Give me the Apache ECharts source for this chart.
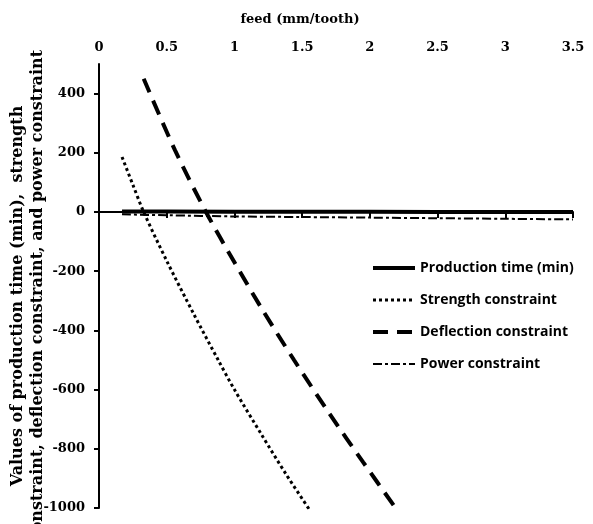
<!DOCTYPE html>
<html>
<head>
<meta charset="utf-8">
<script src="https://cdn.jsdelivr.net/npm/echarts@6/dist/echarts.min.js"></script>
<style>
  html, body { margin: 0; padding: 0; background: #fff; }
  #chart { width: 593px; height: 524px; }
</style>
</head>
<body>
<div id="chart"></div>
<script>
// feed (mm/tooth) vs value
var productionTime = [[0.17, 2], [0.5, 2], [1.0, 1], [1.5, 1], [2.0, 1], [2.5, 0], [3.0, 0], [3.5, 0]];
var strengthConstraint = [[0.17, 186], [0.25, 92], [0.33, 0], [0.5, -165], [0.7, -345], [0.88, -500], [1.0, -600], [1.2, -752], [1.38, -885], [1.55, -1003]];
var deflectionConstraint = [[0.33, 450], [0.56, 210], [0.79, 0], [1.0, -170], [1.2, -325], [1.44, -500], [1.7, -680], [1.95, -845], [2.19, -1000]];
var powerConstraint = [[0.17, -8], [0.5, -11], [1.0, -15], [1.5, -17], [2.0, -19], [2.5, -21], [3.0, -23], [3.5, -25]];

var seriesNames = ['Production time (min)', 'Strength constraint', 'Deflection constraint', 'Power constraint'];
var xTitle = 'feed (mm/tooth)';
var yTitle = 'Values of production time (min),  strength\nconstraint, deflection constraint, and power constraint';

// line looks, shared by series and legend
var styles = [
    { color: '#000', width: 4, type: 'solid' },
    { color: '#000', width: 3, type: [3, 3] },
    { color: '#000', width: 4, type: [15, 9] },
    { color: '#000', width: 2, type: [9, 3, 3, 3] }
];

var chart = echarts.init(document.getElementById('chart'));

var legendData = seriesNames.map(function (n, i) {
    return { name: n, lineStyle: styles[i] };
});

var option = {
    animation: false,
    backgroundColor: '#fff',
    title: {
        text: xTitle,
        left: 295,
        top: 8,
        textAlign: 'center',
        textStyle: { fontFamily: 'DejaVu Serif', fontWeight: 'bold', fontSize: 13, color: '#000' }
    },
    grid: { left: 99, right: 20, top: 64, bottom: 16 },
    legend: {
        orient: 'vertical',
        left: 366,
        top: 256,
        itemWidth: 42,
        itemHeight: 14,
        itemGap: 18,
        data: legendData,
        itemStyle: { opacity: 0 },
        textStyle: { fontFamily: 'Open Sans', fontWeight: 'bold', fontSize: 14, color: '#000' }
    },
    xAxis: {
        type: 'value',
        position: 'top',
        min: 0,
        max: 3.5,
        interval: 0.5,
        axisLine: { lineStyle: { color: '#000', width: 2 } },
        axisTick: { inside: true, length: 6, lineStyle: { color: '#000', width: 2 } },
        axisLabel: { margin: 10, color: '#000', fontFamily: 'DejaVu Serif', fontWeight: 'bold', fontSize: 13 },
        splitLine: { show: false }
    },
    yAxis: {
        type: 'value',
        min: -1000,
        max: 500,
        interval: 200,
        axisLine: { show: true, lineStyle: { color: '#000', width: 2 } },
        axisTick: { show: true, length: 5, lineStyle: { color: '#000', width: 2 } },
        axisLabel: {
            showMaxLabel: false, margin: 14, color: '#000',
            fontFamily: 'DejaVu Serif', fontWeight: 'bold', fontSize: 13,
            formatter: function (v) { return String(v); }
        },
        splitLine: { show: false }
    },
    graphic: [{
        type: 'text',
        x: 28,
        y: 296,
        rotation: Math.PI / 2,
        style: {
            text: yTitle,
            font: 'bold 16px "DejaVu Serif"',
            fill: '#000',
            align: 'center',
            verticalAlign: 'middle',
            lineHeight: 20
        }
    }],
    series: [
        {
            name: seriesNames[1],
            type: 'line',
            data: strengthConstraint,
            symbol: 'none',
            smooth: 0.3,
            lineStyle: styles[1],
            itemStyle: { color: '#000' }
        },
        {
            name: seriesNames[2],
            type: 'line',
            data: deflectionConstraint,
            symbol: 'none',
            smooth: 0.3,
            lineStyle: styles[2],
            itemStyle: { color: '#000' }
        },
        {
            name: seriesNames[3],
            type: 'line',
            data: powerConstraint,
            symbol: 'none',
            smooth: 0.3,
            lineStyle: styles[3],
            itemStyle: { color: '#000' }
        },
        {
            name: seriesNames[0],
            type: 'line',
            data: productionTime,
            symbol: 'none',
            z: 5,
            lineStyle: styles[0],
            itemStyle: { color: '#000' }
        }
    ]
};

chart.setOption(option);
</script>
</body>
</html>
